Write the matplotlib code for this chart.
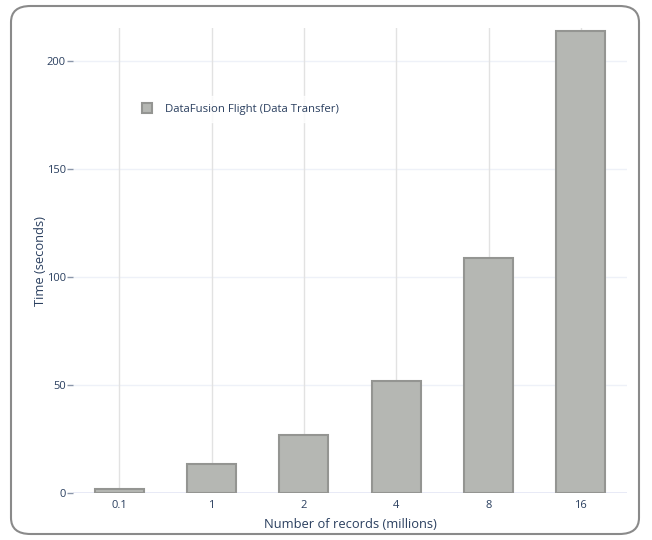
import numpy as np
import matplotlib.pyplot as plt
from matplotlib.patches import FancyBboxPatch, Patch

plt.rcParams['font.family'] = ['Open Sans', 'DejaVu Sans']

records = ['0.1', '1', '2', '4', '8', '16']
seconds = [1.9, 13.4, 26.9, 52.0, 108.8, 214.0]
series_name = 'DataFusion Flight (Data Transfer)'

txt = '#2a3f5f'
fill = '#b5b7b3'
edge = '#949592'

fig = plt.figure(figsize=(6.52, 5.40), dpi=100)

# rounded outer frame
frame = FancyBboxPatch((11/652, 6/540), 628/652, 528/540,
                       boxstyle='round,pad=0,rounding_size=0.03',
                       transform=fig.transFigure, facecolor='none',
                       edgecolor='#8a8a8a', linewidth=1.5, zorder=0)
fig.patches.append(frame)

ax = fig.add_axes([73/652, 47/540, 554/652, 465/540])
x = np.arange(len(records))

ax.set_xlim(-0.5, len(records) - 0.5)
ax.set_ylim(0, 215.3)

# gridlines
for yv in [50, 100, 150, 200]:
    ax.axhline(yv, color='#eef1f8', lw=1, zorder=0)
for xv in x:
    ax.axvline(xv, color='#e2e2e2', lw=1, zorder=0.5)
ax.axhline(0, color='#e6e8f5', lw=2, zorder=1)

ax.bar(x, seconds, width=0.53, color=fill, edgecolor=edge, linewidth=1.5, zorder=2)

for s in ax.spines.values():
    s.set_visible(False)

ax.set_xticks(x)
ax.set_xticklabels(records)
ax.set_yticks([0, 50, 100, 150, 200])
ax.tick_params(axis='x', length=0, pad=5, labelsize=8, labelcolor=txt)
ax.tick_params(axis='y', length=4, width=1, color='#8a96aa', pad=1,
               labelsize=8, labelcolor=txt)

ax.set_xlabel('Number of records (millions)', fontsize=9.3, color=txt, va='center')
ax.set_ylabel('Time (seconds)', fontsize=9.3, color=txt, va='center')
ax.xaxis.set_label_coords(0.5, -31/465)
ax.yaxis.set_label_coords(-33/554, 0.5)

handle = Patch(facecolor=fill, edgecolor=edge, linewidth=1.5)
leg = ax.legend([handle], [series_name], loc='center left',
                bbox_to_anchor=(0.102, 0.826), frameon=True, fancybox=False,
                handlelength=0.9, handleheight=0.9, handletextpad=1.1,
                fontsize=8.2, borderpad=0.6)
leg.get_frame().set_facecolor('white')
leg.get_frame().set_edgecolor('white')
for t in leg.get_texts():
    t.set_color(txt)

fig.savefig('out.png', dpi=100)
